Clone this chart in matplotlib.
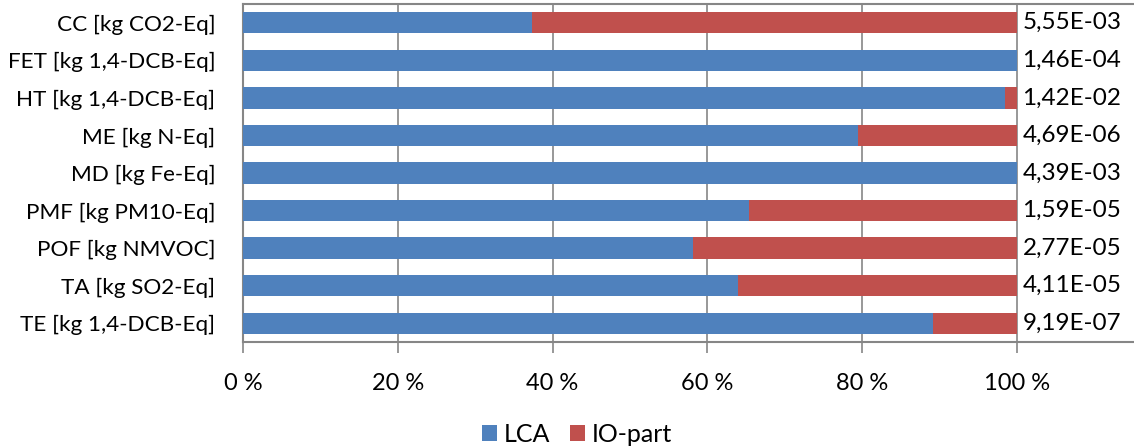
import matplotlib

matplotlib.use("Agg")
import matplotlib.pyplot as plt
import numpy as np

categories = [
    "CC [kg CO2-Eq]",
    "FET [kg 1,4-DCB-Eq]",
    "HT [kg 1,4-DCB-Eq]",
    "ME [kg N-Eq]",
    "MD [kg Fe-Eq]",
    "PMF [kg PM10-Eq]",
    "POF [kg NMVOC]",
    "TA [kg SO2-Eq]",
    "TE [kg 1,4-DCB-Eq]",
]
lca_share = [0.374, 1.0, 0.985, 0.795, 1.0, 0.654, 0.582, 0.639, 0.892]
io_share = [1 - v for v in lca_share]
totals = ["5,55E-03", "1,46E-04", "1,42E-02", "4,69E-06", "4,39E-03",
          "1,59E-05", "2,77E-05", "4,11E-05", "9,19E-07"]
x_ticks = [0, 0.2, 0.4, 0.6, 0.8, 1.0]
x_tick_labels = ["0 %", "20 %", "40 %", "60 %", "80 %", "100 %"]

plt.rcParams["font.family"] = ["Lato", "DejaVu Sans"]

blue = "#4F81BD"
red = "#C0504D"
grid_grey = "#868686"

fig = plt.figure(figsize=(11.34, 4.48), dpi=100)
ax = fig.add_axes([243 / 1134, 1 - 342 / 448, 1 - 243 / 1134, 338 / 448])

y = np.arange(len(categories))
ax.barh(y, lca_share, height=0.57, color=blue, label="LCA", zorder=3)
ax.barh(y, io_share, left=lca_share, height=0.57, color=red, label="IO-part", zorder=3)

ax.set_xlim(0, (1134 - 243) / 774)
ax.set_ylim(len(categories) - 0.5, -0.5)
ax.set_yticks(y)
ax.set_yticklabels(categories, fontsize=16.2)
ax.tick_params(axis="y", length=0, pad=20)

ax.set_xticks(x_ticks)
ax.set_xticklabels(x_tick_labels, fontsize=17)
ax.tick_params(axis="x", length=8, width=1.2, color=grid_grey, pad=14, direction="out")

ax.grid(axis="x", color=grid_grey, linewidth=1.2, zorder=0)
for side in ["top", "bottom", "left"]:
    ax.spines[side].set_color(grid_grey)
    ax.spines[side].set_linewidth(1.5)
ax.spines["right"].set_visible(False)

for yi, label in zip(y, totals):
    ax.text(1.007, yi, label, va="center", ha="left", fontsize=17.5, zorder=4)

fig.legend(
    loc="center",
    bbox_to_anchor=(577 / 1134, 1 - 434 / 448),
    ncol=2,
    frameon=False,
    fontsize=18,
    handlelength=0.6,
    handleheight=0.6,
    handletextpad=0.25,
    columnspacing=0.8,
    borderpad=0,
)

fig.savefig("out.png", dpi=100)
